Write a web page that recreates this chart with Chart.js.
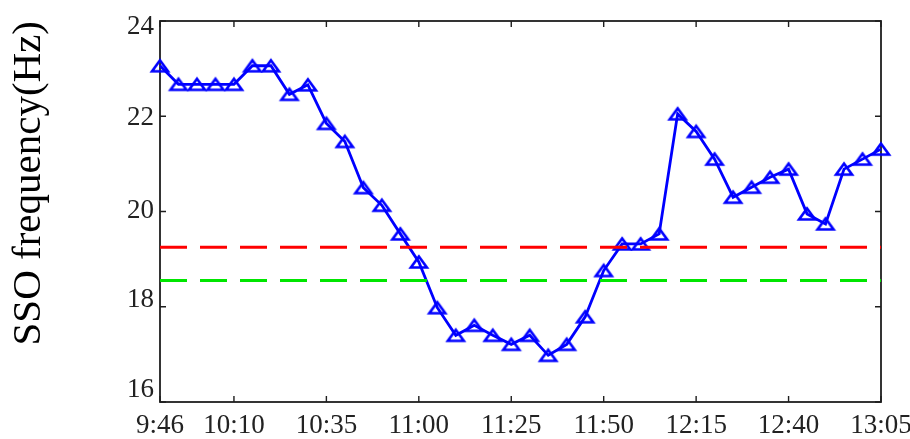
<!DOCTYPE html>
<html>
<head>
<meta charset="utf-8">
<script src="https://cdn.jsdelivr.net/npm/chart.js@4.4.1/dist/chart.umd.min.js"></script>
</head>
<body style="margin:0;background:#fff">
<canvas id="c" width="910" height="439"></canvas>
<script>
// ---- data ----
const frequency = [
  23.06, 22.67, 22.67, 22.67, 22.67, 23.06, 23.06, 22.46, 22.66, 21.85,
  21.47, 20.50, 20.13, 19.53, 18.94, 17.98, 17.40, 17.61, 17.40, 17.21,
  17.40, 16.98, 17.21, 17.79, 18.76, 19.32, 19.32, 19.53, 22.05, 21.68,
  21.10, 20.30, 20.51, 20.72, 20.89, 19.95, 19.74, 20.89, 21.10, 21.31
];
const tickPositions = [0, 4, 9, 14, 19, 24, 29, 34, 39];
const tickLabels = ['9:46', '10:10', '10:35', '11:00', '11:25', '11:50', '12:15', '12:40', '13:05'];
const yTickValues = [16, 18, 20, 22, 24];
const upperLimit = 19.25;
const lowerLimit = 18.55;
const yTitle = 'SSO frequency(Hz)';

const SERIF = 'Liberation Serif';
Chart.defaults.font.family = SERIF;
Chart.defaults.color = '#222';

// vertical nudge of the y tick labels (px), as placed in the reference
const yLabelNudge = { 16: -12.5, 18: -6.5, 20: -1, 22: 1.5, 24: 5.5 };

// ---- marker ----
function makeTriangle() {
  const c = document.createElement('canvas');
  c.width = 24; c.height = 20;
  const g = c.getContext('2d');
  g.strokeStyle = '#0000ff';
  g.lineWidth = 2.6;
  g.lineJoin = 'miter';
  g.beginPath();
  g.moveTo(12, 4.5);
  g.lineTo(20, 15.5);
  g.lineTo(4, 15.5);
  g.closePath();
  g.stroke();
  return c;
}
const tri = makeTriangle();

const lastIdx = frequency.length - 1;
const mainData = frequency.map((v, i) => ({ x: i, y: v }));
const upperData = [{ x: 0, y: upperLimit }, { x: lastIdx, y: upperLimit }];
const lowerData = [{ x: 0, y: lowerLimit }, { x: lastIdx, y: lowerLimit }];

const framePlugin = {
  id: 'frame',
  beforeDatasetsDraw(chart) {
    const { ctx, chartArea: { left, right, top, bottom }, scales: { x, y } } = chart;
    ctx.save();
    ctx.strokeStyle = '#1e1e1e';
    ctx.lineWidth = 1.8;
    ctx.strokeRect(left, top, right - left, bottom - top);
    ctx.lineWidth = 1.4;
    const L = 6;
    ctx.beginPath();
    x.ticks.forEach(t => {
      const px = x.getPixelForValue(t.value);
      ctx.moveTo(px, bottom); ctx.lineTo(px, bottom - L);
      ctx.moveTo(px, top); ctx.lineTo(px, top + L);
    });
    y.ticks.forEach(t => {
      const py = y.getPixelForValue(t.value);
      ctx.moveTo(left, py); ctx.lineTo(left + L, py);
      ctx.moveTo(right, py); ctx.lineTo(right - L, py);
    });
    ctx.stroke();
    ctx.restore();
  }
};

function nudgeOf(c) {
  const v = c && c.tick ? c.tick.value : null;
  return (v !== null && yLabelNudge[v] !== undefined) ? yLabelNudge[v] : 0;
}

new Chart(document.getElementById('c'), {
  type: 'line',
  data: {
    datasets: [
      {
        data: upperData,
        borderColor: '#ff0000',
        borderWidth: 3,
        borderDash: [27, 13],
        borderCapStyle: 'butt',
        pointRadius: 0,
        fill: false,
        clip: false
      },
      {
        data: lowerData,
        borderColor: '#00e600',
        borderWidth: 3,
        borderDash: [27, 13],
        borderCapStyle: 'butt',
        pointRadius: 0,
        fill: false,
        clip: false
      },
      {
        data: mainData,
        borderColor: '#0000ff',
        borderWidth: 2.8,
        pointStyle: tri,
        pointRadius: 9,
        tension: 0,
        fill: false,
        clip: false
      }
    ]
  },
  options: {
    responsive: false,
    devicePixelRatio: 1,
    animation: false,
    layout: { padding: { left: 0, right: 29, top: 21, bottom: 0 } },
    plugins: { legend: { display: false }, tooltip: { enabled: false } },
    scales: {
      x: {
        type: 'linear',
        min: 0,
        max: lastIdx,
        grid: { display: false, drawTicks: false },
        border: { display: false },
        afterBuildTicks: s => { s.ticks = tickPositions.map(v => ({ value: v })); },
        afterFit: s => { s.height = 37; s.paddingLeft = 0; s.paddingRight = 0; },
        ticks: {
          autoSkip: false,
          maxRotation: 0,
          padding: 8,
          color: '#222',
          font: { family: SERIF, size: 27 },
          callback: v => { const k = tickPositions.indexOf(v); return k >= 0 ? tickLabels[k] : ''; }
        }
      },
      y: {
        type: 'linear',
        min: 16,
        max: 24,
        grid: { display: false, drawTicks: false },
        border: { display: false },
        afterBuildTicks: s => { s.ticks = yTickValues.map(v => ({ value: v })); },
        afterFit: s => { s.width = 160; s.paddingTop = 0; s.paddingBottom = 0; },
        ticks: {
          padding: 6,
          color: '#222',
          font: c => {
            const n = Math.abs(nudgeOf(c));
            return { family: SERIF, size: 27, lineHeight: n > 0 ? (2 * n) + 'px' : 1.2 };
          },
          callback: v => {
            const n = yLabelNudge[v] || 0;
            const s = String(v);
            if (n < 0) return [s, ''];
            if (n > 0) return ['', s];
            return s;
          }
        },
        title: {
          display: true,
          text: yTitle,
          align: 'end',
          color: '#000',
          font: { family: SERIF, size: 41, weight: 'normal', lineHeight: 1.2 },
          padding: { top: 5, bottom: 0 }
        }
      }
    }
  },
  plugins: [framePlugin]
});
</script>
</body>
</html>
